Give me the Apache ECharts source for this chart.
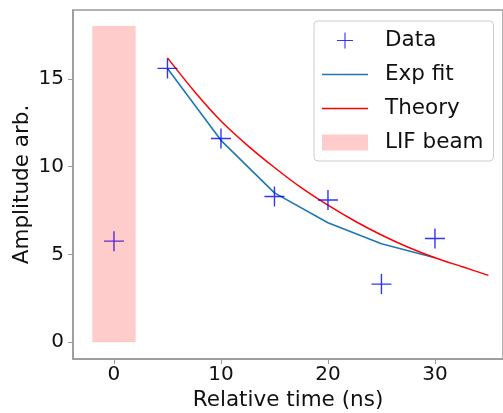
<!DOCTYPE html>
<html>
<head>
<meta charset="utf-8">
<script src="https://cdn.jsdelivr.net/npm/echarts@6/dist/echarts.min.js"></script>
<style>
  html, body { margin: 0; padding: 0; background: #fff; }
  #chart { width: 503px; height: 413px; }
</style>
</head>
<body>
<div id="chart"></div>
<script>
// measured data
var dataX = [0, 5, 10, 15, 20, 25, 30];
var dataY = [5.75, 15.6, 11.6, 8.3, 8.1, 3.3, 5.9];

// exponential fit, drawn at the data times
var fitX = [5, 10, 15, 20, 25, 30];
var fitY = [15.6, 11.5, 8.5, 6.8, 5.6, 4.8];

// theory curve
var theoryX = [5, 7.5, 10, 12.5, 15, 17.5, 20, 22.5, 25, 27.5, 30, 32.5, 35];
var theoryY = [16.2, 14.3, 12.6, 11.2, 9.95, 8.8, 7.8, 6.9, 6.1, 5.4, 4.8, 4.3, 3.8];

// LIF beam span
var beamX = [-2, 2];
var beamY = [0, 18];

var xTicks = [0, 10, 20, 30];
var yTicks = [0, 5, 10, 15];

var plus = "path://M0,9.3H20V10.7H0ZM9.3,0H10.7V20H9.3Z";
var lineIcon = "path://M0,0H40V1.3H0Z";
var font = "DejaVu Sans";

function pairs(xs, ys) {
  return xs.map(function (x, i) { return [x, ys[i]]; });
}

var chart = echarts.init(document.getElementById("chart"));
chart.setOption({
  animation: false,
  textStyle: { fontFamily: font },
  grid: {
    left: 73,
    top: 10,
    right: 0,
    bottom: 54,
    containLabel: false,
    outerBoundsMode: "none",
    show: true,
    borderColor: "#999",
    borderWidth: 1.5,
  },
  legend: {
    orient: "vertical",
    left: 314,
    top: 21,
    padding: [8, 10, 7, 8],
    itemWidth: 46,
    itemHeight: 16,
    itemGap: 11,
    backgroundColor: "rgba(255,255,255,0.8)",
    borderColor: "#ccc",
    borderWidth: 1,
    borderRadius: 4,
    textStyle: {
      fontFamily: font,
      fontSize: 21.5,
      color: "#111",
      lineHeight: 23,
      padding: [0, 0, 0, 12],
    },
    data: [
      { name: "Data", icon: plus },
      { name: "Exp fit", icon: lineIcon },
      { name: "Theory", icon: lineIcon },
      { name: "LIF beam", icon: "rect" },
    ],
  },
  xAxis: {
    type: "value",
    min: -3.83,
    max: 36.36,
    name: "Relative time (ns)",
    nameLocation: "middle",
    nameGap: 30,
    nameMoveOverlap: false,
    nameTextStyle: { fontFamily: font, fontSize: 21.5, color: "#111" },
    splitLine: { show: false },
    axisLine: { onZero: false, lineStyle: { color: "#999", width: 1.5 } },
    axisTick: {
      customValues: xTicks,
      length: 5,
      lineStyle: { color: "#999" },
    },
    axisLabel: {
      customValues: xTicks,
      margin: 6,
      fontFamily: font,
      fontSize: 20,
      color: "#111",
    },
  },
  yAxis: {
    type: "value",
    min: -0.97,
    max: 18.93,
    name: "Amplitude arb.",
    nameLocation: "middle",
    nameGap: 40,
    nameMoveOverlap: false,
    nameTextStyle: { fontFamily: font, fontSize: 21.5, color: "#111" },
    splitLine: { show: false },
    axisLine: { show: true, onZero: false, lineStyle: { color: "#999", width: 1.5 } },
    axisTick: {
      show: true,
      customValues: yTicks,
      length: 5,
      lineStyle: { color: "#999" },
    },
    axisLabel: {
      customValues: yTicks,
      margin: 9,
      fontFamily: font,
      fontSize: 20,
      color: "#111",
    },
  },
  series: [
    {
      name: "Exp fit",
      type: "line",
      data: pairs(fitX, fitY),
      symbol: "none",
      z: 2,
      itemStyle: { color: "#1f77b4" },
      lineStyle: { color: "#1f77b4", width: 1.6 },
    },
    {
      name: "Theory",
      type: "line",
      data: pairs(theoryX, theoryY),
      smooth: 0.3,
      symbol: "none",
      z: 2,
      itemStyle: { color: "#ff0000" },
      lineStyle: { color: "#ff0000", width: 1.5 },
    },
    {
      name: "Data",
      type: "scatter",
      data: pairs(dataX, dataY),
      symbol: plus,
      symbolSize: 20,
      z: 3,
      itemStyle: { color: "#0000ff" },
    },
    {
      name: "LIF beam",
      type: "custom",
      z: 4,
      itemStyle: { color: "rgba(255,0,0,0.2)" },
      data: [[beamX[0], beamY[0], beamX[1], beamY[1]]],
      encode: { x: [0, 2], y: [1, 3] },
      renderItem: function (params, api) {
        var p0 = api.coord([api.value(0), api.value(3)]);
        var p1 = api.coord([api.value(2), api.value(1)]);
        return {
          type: "rect",
          shape: { x: p0[0], y: p0[1], width: p1[0] - p0[0], height: p1[1] - p0[1] },
          style: {
            fill: "rgba(255,0,0,0.2)",
            stroke: "rgba(255,0,0,0.08)",
            lineWidth: 1,
          },
        };
      },
    },
  ],
});
</script>
</body>
</html>
